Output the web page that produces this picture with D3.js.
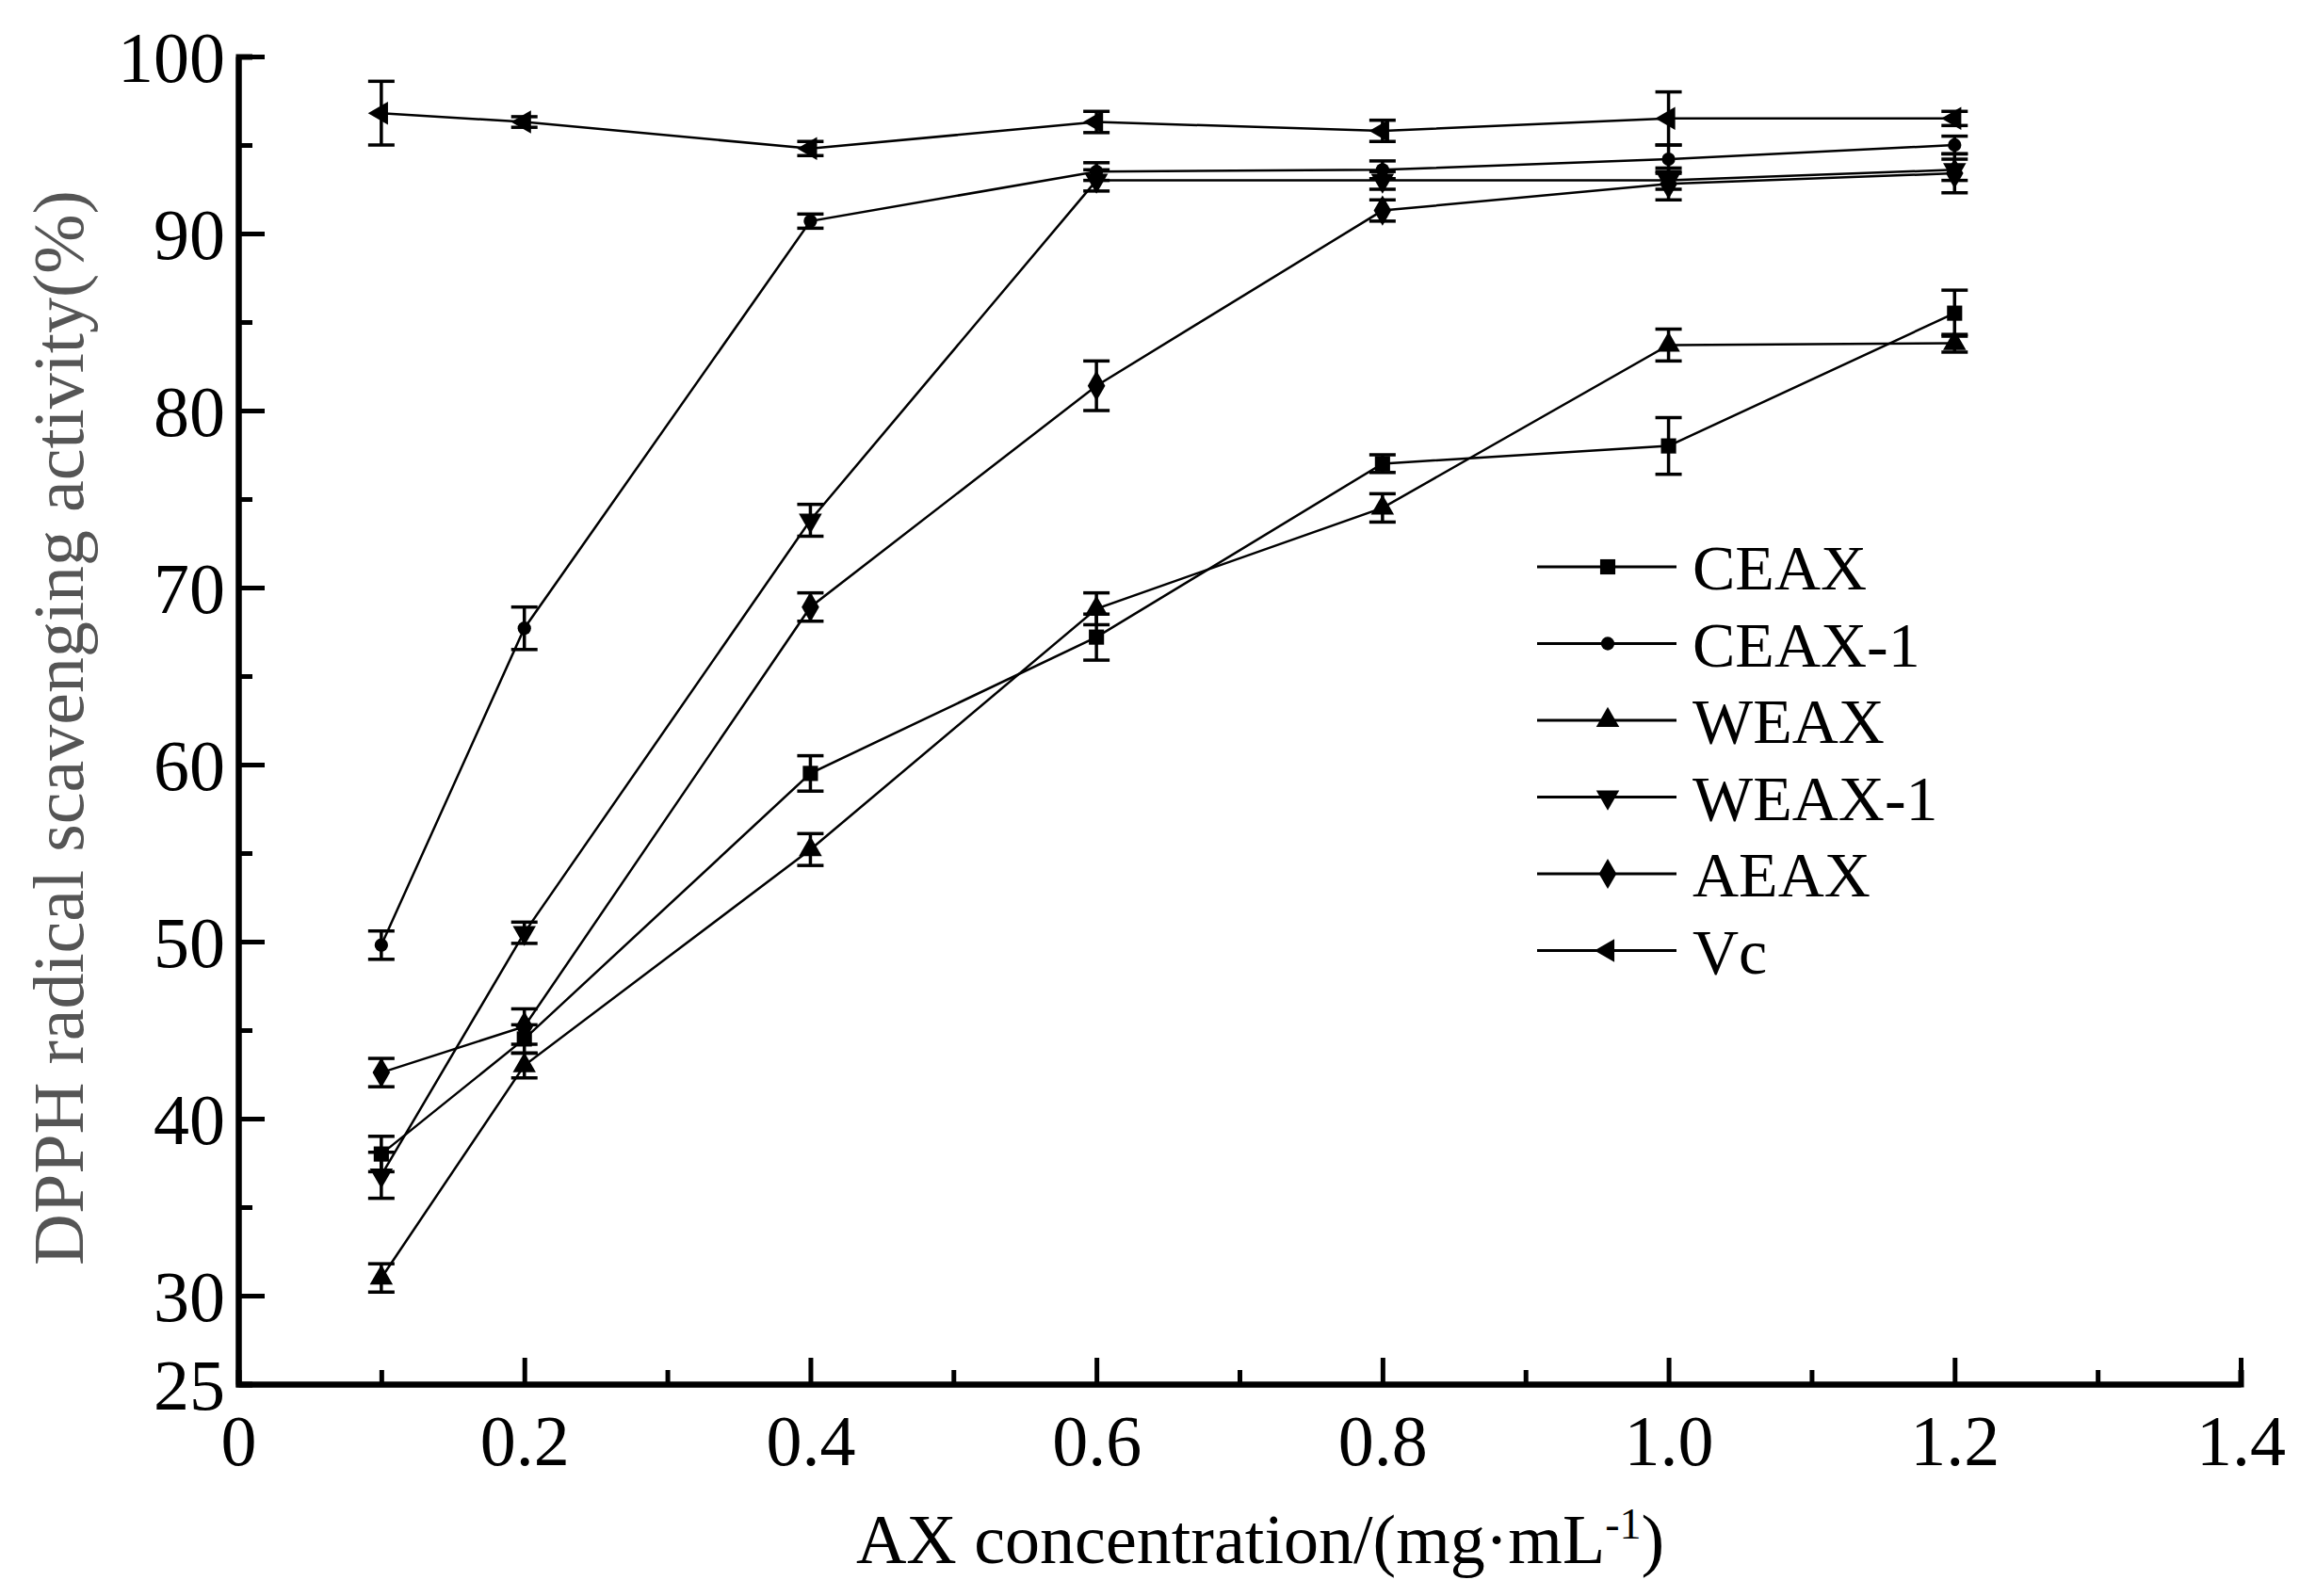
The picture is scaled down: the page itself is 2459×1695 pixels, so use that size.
<!DOCTYPE html><html><head><meta charset="utf-8">
<script src="https://cdn.jsdelivr.net/npm/d3@7"></script>
<style>body{margin:0;background:#fff}</style></head><body>
<svg id="c" width="2459" height="1695"></svg>
<script>
const xs=[0.1,0.2,0.4,0.6,0.8,1.0,1.2];
const seriesNames=["CEAX","CEAX-1","WEAX","WEAX-1","AEAX","Vc"];
const CEAX=[38.0,44.5,59.5,67.2,77.0,78.0,85.5];
const CEAX_err=[1.0,0.8,1.0,1.3,0.5,1.6,1.3];
const CEAX1=[49.8,67.7,90.7,93.5,93.6,94.2,95.0];
const CEAX1_err=[0.8,1.2,0.4,0.5,0.5,0.8,0.5];
const WEAX=[31.0,43.0,55.2,68.8,74.5,83.7,83.8];
const WEAX_err=[0.8,0.7,0.9,0.9,0.8,0.9,0.5];
const WEAX1=[36.8,50.5,73.8,93.0,93.0,93.0,93.6];
const WEAX1_err=[1.3,0.6,0.9,0.6,0.5,0.5,0.6];
const AEAX=[42.6,45.2,68.9,81.4,91.3,92.8,93.4];
const AEAX_err=[0.8,1.0,0.8,1.4,0.6,0.9,1.1];
const Vc=[96.8,96.3,94.8,96.3,95.8,96.5,96.5];
const Vc_err=[1.8,0.3,0.4,0.6,0.6,1.5,0.4];
const xTicks=[0,0.2,0.4,0.6,0.8,1.0,1.2,1.4];
const yTicks=[25,30,40,50,60,70,80,90,100];

const data=[CEAX,CEAX1,WEAX,WEAX1,AEAX,Vc];
const errs=[CEAX_err,CEAX1_err,WEAX_err,WEAX1_err,AEAX_err,Vc_err];
const shapes=[d3.symbolSquare,d3.symbolCircle,d3.symbolTriangle,"tdown",d3.symbolDiamond,"tleft"];
const sizes=[260,160,260,260,300,260];

const svg=d3.select("#c");
const x=d3.scaleLinear().domain([0,1.4]).range([253,2379]);
const y=d3.scaleLinear().domain([25,100]).range([1470,60]);
const F="'Liberation Serif','Times New Roman',serif";

function sym(g,s,size){
  if(s==="tdown") return g.append("path").attr("d",d3.symbol(d3.symbolTriangle,size)()).attr("transform","rotate(180)");
  if(s==="tleft") return g.append("path").attr("d",d3.symbol(d3.symbolTriangle,size)()).attr("transform","rotate(-90)");
  return g.append("path").attr("d",d3.symbol(s,size)());
}

const line=d3.line().x((d,i)=>x(xs[i])).y(d=>y(d));
data.forEach((vals,k)=>{
  svg.append("path").datum(vals).attr("d",line).attr("fill","none").attr("stroke","#000").attr("stroke-width",2.5);
  vals.forEach((v,i)=>{
    const cx=x(xs[i]),e=errs[k][i];
    const g=svg.append("g").attr("stroke","#000").attr("stroke-width",3.5);
    g.append("line").attr("x1",cx).attr("x2",cx).attr("y1",y(v-e)).attr("y2",y(v+e));
    [v-e,v+e].forEach(t=>g.append("line").attr("x1",cx-14).attr("x2",cx+14).attr("y1",y(t)).attr("y2",y(t)));
    const m=svg.append("g").attr("transform",`translate(${cx},${y(v)})`);
    sym(m,shapes[k],sizes[k]).attr("fill","#000");
  });
});

const xa=svg.append("g").attr("transform",`translate(0,${y(25)})`)
 .call(d3.axisBottom(x).tickValues(xTicks).tickSizeInner(-28).tickSizeOuter(0).tickPadding(40).tickFormat(d=>d===0?"0":d3.format(".1f")(d)));
svg.append("g").attr("transform",`translate(0,${y(25)})`)
 .call(d3.axisBottom(x).tickValues(d3.range(1,14,2).map(d=>d/10)).tickSize(-15).tickFormat(""));
const ya=svg.append("g").attr("transform",`translate(${x(0)},0)`)
 .call(d3.axisLeft(y).tickValues(yTicks).tickSizeInner(-28).tickSizeOuter(0).tickPadding(14));
svg.append("g").attr("transform",`translate(${x(0)},0)`)
 .call(d3.axisLeft(y).tickValues([35,45,55,65,75,85,95]).tickSize(-15).tickFormat(""));
svg.selectAll(".domain").attr("stroke","#000").attr("stroke-width",6);
svg.selectAll(".tick line").attr("stroke","#000").attr("stroke-width",5);
svg.selectAll(".tick text").attr("font-family",F).attr("font-size",76).attr("fill","#000");
ya.selectAll(".tick text").attr("dy","0.35em");
xa.selectAll(".tick text").attr("dy","0.6em");

svg.append("text").attr("x",1338).attr("y",1660).attr("text-anchor","middle").attr("font-family",F).attr("font-size",74)
 .html('AX concentration/(mg·mL<tspan dy="-26" font-size="46">-1</tspan><tspan dy="26">)</tspan>');
svg.append("text").attr("transform","translate(88,773) rotate(-90)").attr("text-anchor","middle").attr("font-family",F)
 .attr("font-size",76).attr("fill","#555").text("DPPH radical scavenging activity(%)");

seriesNames.forEach((n,k)=>{
  const ly=602+k*81.5;
  svg.append("line").attr("x1",1632).attr("x2",1780).attr("y1",ly).attr("y2",ly).attr("stroke","#000").attr("stroke-width",3);
  const m=svg.append("g").attr("transform",`translate(1707,${ly})`);
  sym(m,shapes[k],sizes[k]).attr("fill","#000");
  svg.append("text").attr("x",1797).attr("y",ly+24).attr("font-family",F).attr("font-size",68).text(n);
});
</script></body></html>
